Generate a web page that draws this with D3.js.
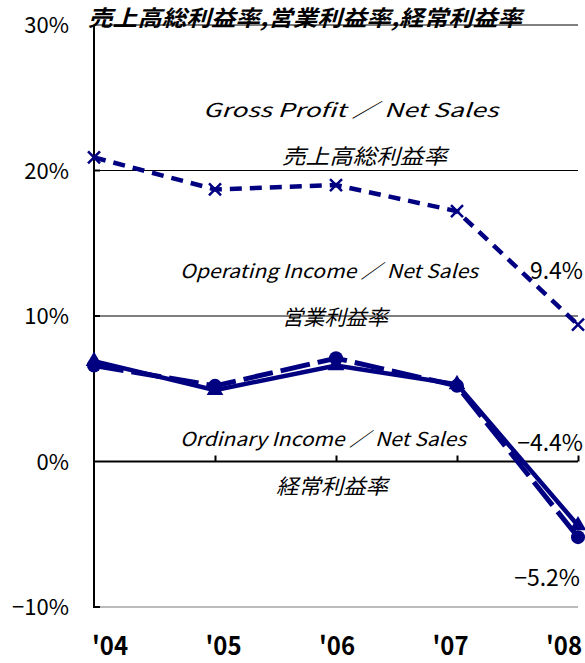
<!DOCTYPE html>
<html>
<head>
<meta charset="utf-8">
<script src="https://cdn.jsdelivr.net/npm/d3@7"></script>
<style>
  body { margin: 0; background: #fff; }
  text { font-family: "Noto Sans CJK JP", "Noto Sans", sans-serif; }
</style>
</head>
<body>
<div id="chart"></div>
<script>
// margin ratios chart
var years = ["'04", "'05", "'06", "'07", "'08"];
var grossProfit = [20.9, 18.7, 19.0, 17.2, 9.4];
var operatingIncome = [6.9, 4.9, 6.6, 5.3, -4.4];
var ordinaryIncome = [6.6, 5.2, 7.1, 5.2, -5.2];
var yTicks = [30, 20, 10, 0, -10];
var yTickLabels = ["30%", "20%", "10%", "0%", "\u221210%"];

var width = 585, height = 663;
var navy = "#000080";
var sans = "'Liberation Sans', Arial, sans-serif";

var svg = d3.select("#chart").append("svg")
  .attr("width", width)
  .attr("height", height);

var x = d3.scalePoint().domain(years).range([94, 578]);
var xLabel = d3.scalePoint().domain(years).range([110, 564]);
var y = d3.scaleLinear().domain([-10, 30]).range([607, 25]);

// gridlines
svg.append("g").selectAll("line")
  .data([30, 20, 10])
  .enter().append("line")
  .attr("x1", 94).attr("x2", 578)
  .attr("y1", function(d) { return y(d); })
  .attr("y2", function(d) { return y(d); })
  .attr("stroke", "#000").attr("stroke-width", 1);

svg.append("line")
  .attr("x1", 94).attr("x2", 578)
  .attr("y1", y(-10)).attr("y2", y(-10))
  .attr("stroke", "#777").attr("stroke-width", 1);

// zero axis with ticks
var xAxis = d3.axisBottom(x).tickSize(-6).tickFormat("");
svg.append("g")
  .attr("transform", "translate(0," + y(0) + ")")
  .call(xAxis)
  .call(function(g) {
    g.select(".domain").attr("stroke-width", 2).attr("d", "M94,0H578");
    g.selectAll(".tick line").attr("stroke-width", 2);
    g.selectAll(".tick").filter(function(d) { return d === "'04"; }).remove();
  });

// y axis
svg.append("line")
  .attr("x1", 94).attr("x2", 94)
  .attr("y1", y(30)).attr("y2", y(-10) + 1)
  .attr("stroke", "#000").attr("stroke-width", 2);
svg.append("line")
  .attr("x1", 93).attr("x2", 100)
  .attr("y1", y(-10)).attr("y2", y(-10))
  .attr("stroke", "#000").attr("stroke-width", 2);
svg.selectAll(".ytick")
  .data([20, 10])
  .enter().append("line")
  .attr("x1", 94).attr("x2", 100)
  .attr("y1", function(d) { return y(d); })
  .attr("y2", function(d) { return y(d); })
  .attr("stroke", "#000").attr("stroke-width", 2);

// y labels
svg.append("g").selectAll("text")
  .data(yTicks)
  .enter().append("text")
  .attr("x", 69)
  .attr("y", function(d) { return y(d) + 8; })
  .attr("text-anchor", "end")
  .attr("font-size", 22)
  .attr("font-family", sans)
  .text(function(d, i) { return yTickLabels[i]; });

// x labels
svg.append("g").selectAll("text")
  .data(years)
  .enter().append("text")
  .attr("x", function(d) { return xLabel(d) - 18; })
  .attr("y", 655)
  .attr("font-size", 26)
  .attr("font-weight", "bold")
  .attr("font-family", sans)
  .attr("textLength", 36)
  .attr("lengthAdjust", "spacingAndGlyphs")
  .text(function(d) { return d; });

var line = d3.line()
  .x(function(d, i) { return x(years[i]); })
  .y(function(d) { return y(d); });

// gross profit
svg.append("path")
  .datum(grossProfit)
  .attr("d", line)
  .attr("fill", "none")
  .attr("stroke", navy)
  .attr("stroke-width", 4.5)
  .attr("stroke-dasharray", "12,8");
svg.append("g").selectAll("path")
  .data(grossProfit)
  .enter().append("path")
  .attr("transform", function(d, i) { return "translate(" + x(years[i]) + "," + y(d) + ")"; })
  .attr("d", "M-6,-6L6,6M-6,6L6,-6")
  .attr("stroke", navy)
  .attr("stroke-width", 2.5);

// ordinary income (long dash)
svg.append("path")
  .datum(ordinaryIncome)
  .attr("d", line)
  .attr("fill", "none")
  .attr("stroke", navy)
  .attr("stroke-width", 5)
  .attr("stroke-dasharray", "30,8");

// operating income (solid)
svg.append("path")
  .datum(operatingIncome)
  .attr("d", line)
  .attr("fill", "none")
  .attr("stroke", navy)
  .attr("stroke-width", 4.5);

svg.append("g").selectAll("path")
  .data(operatingIncome)
  .enter().append("path")
  .attr("transform", function(d, i) { return "translate(" + x(years[i]) + "," + y(d) + ")"; })
  .attr("d", d3.symbol().type(d3.symbolTriangle).size(120))
  .attr("fill", navy);

svg.append("g").selectAll("circle")
  .data(ordinaryIncome)
  .enter().append("circle")
  .attr("cx", function(d, i) { return x(years[i]); })
  .attr("cy", function(d) { return y(d); })
  .attr("r", 7)
  .attr("fill", navy);

// title
svg.append("text")
  .attr("x", 88).attr("y", 26)
  .attr("font-size", 22)
  .attr("font-weight", "bold")
  .attr("font-style", "italic")
  .attr("textLength", 434)
  .attr("lengthAdjust", "spacingAndGlyphs")
  .text("売上高総利益率,営業利益率,経常利益率");

// series labels
var labels = [
  { t: "Gross Profit \uFF0F Net Sales", x: 203, w: 295, y: 117, s: 19 },
  { t: "売上高総利益率", x: 282, w: 165, y: 164, s: 21 },
  { t: "Operating Income \uFF0F Net Sales", x: 180, w: 298, y: 278, s: 19 },
  { t: "営業利益率", x: 282, w: 106, y: 325, s: 21 },
  { t: "Ordinary Income \uFF0F Net Sales", x: 180, w: 286, y: 446, s: 19 },
  { t: "経常利益率", x: 276, w: 112, y: 494, s: 21 }
];
svg.append("g").selectAll("text")
  .data(labels)
  .enter().append("text")
  .attr("x", function(d) { return d.x; })
  .attr("y", function(d) { return d.y; })
  .attr("font-size", function(d) { return d.s; })
  .attr("font-style", "italic")
  .attr("textLength", function(d) { return d.w; })
  .attr("lengthAdjust", "spacingAndGlyphs")
  .text(function(d) { return d.t; });

// value labels
var valueLabels = [
  { t: "9.4%", x: 583, y: 279 },
  { t: "\u22124.4%", x: 583, y: 451 },
  { t: "\u22125.2%", x: 580, y: 586 }
];
svg.append("g").selectAll("text")
  .data(valueLabels)
  .enter().append("text")
  .attr("x", function(d) { return d.x; })
  .attr("y", function(d) { return d.y; })
  .attr("text-anchor", "end")
  .attr("font-size", 23)
  .attr("font-family", sans)
  .text(function(d) { return d.t; });
</script>
</body>
</html>
